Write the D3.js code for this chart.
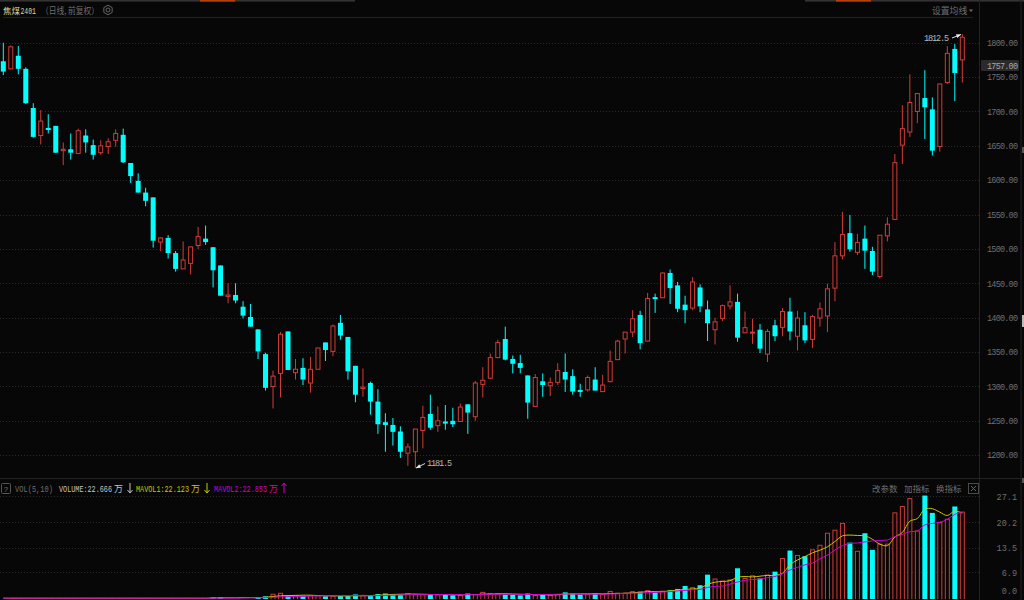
<!DOCTYPE html>
<html><head><meta charset="utf-8">
<style>html,body{margin:0;padding:0;background:#070707;overflow:hidden}svg{display:block}
text{font-family:"Liberation Mono","DejaVu Sans Mono",monospace}
.cjk{font-family:"Noto Sans CJK SC","Liberation Mono",sans-serif}</style>
<script src="https://cdn.jsdelivr.net/npm/d3@7"></script></head><body><svg id="c" width="1024" height="600"></svg>
<script>
const opens=[1773,1762,1781,1762,1705,1665,1676,1679,1643,1645,
1639,1665,1651,1640,1649,1658,1666,1625,1599,1582,
1575,1510,1516,1494,1471,1479,1505,1515,1502.5,1476,
1431,1433,1416,1401,1383,1347,1300,1319,1380,1320,
1327,1305,1325,1364,1351,1392.5,1372,1330,1297,1305,
1278,1248,1244,1234.5,1203,1205,1236,1260,1243,1249,
1250,1249,1274,1256,1303,1312,1342,1369,1340,1334,
1316,1271,1307.5,1301,1306,1321,1315,1295,1295,1310,
1292.5,1307,1339,1369,1379,1404,1366,1430,1429,1465,
1447,1419,1414,1444,1412,1382.5,1399,1417,1423,1378,
1378,1382.5,1347,1389,1386,1409,1373,1389,1368.5,1399.5,
1402.5,1443,1490,1523,1495,1515,1497,1460,1519,1543,
1651,1670,1700,1719.5,1703,1649,1742,1791,1775];
const closes=[1758,1794,1762,1712,1663,1686,1673,1640,1645,1640,
1672,1655,1637,1650,1656,1668,1626,1606,1582,1570,
1512,1516,1494,1471,1484,1503,1518,1510,1469,1432,
1433,1425,1403,1387,1351,1298,1315,1376,1324,1325,
1310,1325,1356,1353,1388,1374,1322,1288,1299,1278,
1245,1244,1234,1205,1212,1238,1255,1240,1250,1246,
1245,1270,1262,1305,1309,1342,1364,1339,1333,1327,
1276.5,1313,1302,1306,1323,1310,1292.5,1292,1313,1294,
1302,1336.5,1366,1379,1398.5,1363,1428,1427,1465,1443,
1413,1411,1452,1416.5,1392,1394,1417.5,1423,1371,1385.5,
1379,1355,1380,1373,1409,1380,1399.5,1367,1401.5,1413,
1442,1490,1521,1499.5,1509.5,1497.5,1467,1520,1536,1625.5,
1675,1713,1726,1706,1643,1740,1784.5,1756,1808];
const highs=[1800,1796,1795,1764,1712,1702,1696,1679,1655,1668,
1675,1674,1659,1658,1661,1674,1675,1625,1610,1589,
1575,1517,1520,1497,1511,1503.5,1532,1534,1502.5,1476,
1450,1450,1424,1420,1383,1349,1323,1379,1380,1340,
1341,1343,1356,1364,1390,1404,1372,1330,1326,1307,
1296,1261,1254,1242,1217,1238,1272,1288,1271,1273,
1269,1275,1274,1308,1328,1348,1368,1387,1345,1346,
1316,1318,1319,1313,1334,1348,1325,1304,1316,1328,
1317,1352,1368,1379,1411,1410,1436,1435,1466,1470,
1452,1432,1459,1448.5,1425,1400,1419,1447,1435,1409,
1398.5,1391,1383.5,1397,1414,1429,1410,1408,1404,1422,
1449.5,1510,1554,1549.5,1522,1534,1503,1520,1546,1638,
1709,1754,1727,1760,1720.5,1740,1795,1798,1812.5];
const lows=[1753,1761,1754,1711,1662,1652,1668,1640,1622,1630,
1638,1640,1630,1637,1638,1649,1625,1596,1582,1562,
1502,1497,1486,1467,1471,1463,1500,1506,1444,1432,
1421,1421,1399,1387,1340,1294,1268,1284,1324,1310,
1302,1291,1325,1337,1344,1368,1310,1277,1285,1259,
1231,1205,1214,1196,1184.5,1181.5,1210,1237,1234,1237,
1241,1249,1231,1250,1284,1311,1341,1338,1319,1319,
1253,1271,1285,1286,1302,1292,1288,1285,1292.5,1294,
1292.5,1306,1339,1348,1372,1354,1366,1407,1429,1420,
1408,1392,1411,1408,1366,1361,1395,1412,1365,1378,
1362,1348.5,1335.5,1366,1373,1367,1352.5,1363,1356,1387,
1379,1424,1485,1496,1491,1471,1462,1457,1511,1543,
1623.5,1663,1683,1660,1636,1641.5,1740,1715,1742];
const volumes=[.04,.04,.04,.04,.04,.04,.04,.04,.04,.04,
.04,.04,.04,.04,.04,.04,.04,.04,.04,.04,
.04,.04,.04,.04,.04,.04,.04,.04,.25,.25,
.1,.1,.2,.2,.3,.55,1.1,1.35,.75,.75,
.7,.75,.75,.55,.6,.6,.6,1.05,.8,.8,
1.15,1.3,1.15,1,1.25,1,1,1,1,1,
.8,.8,1.3,1,1.6,1.25,1.25,1,1,.8,
1.3,.8,.9,.8,1.05,1.6,1.3,1.05,1.05,1.3,
1.05,1.85,1.4,1.4,1.8,1.8,2.05,1.6,1.9,2.15,
2.5,3.3,2.85,3.5,6.3,5.15,4.6,4.9,8,5.3,
6,5.3,6.2,7.1,10.6,12.7,11.4,11.2,12.9,14.1,
17.3,18.1,19.9,14.8,12.5,17.3,12.9,14.4,14.4,22.7,
24.4,26.5,17.9,27.3,22.7,20.2,21,24.4,22.9];
const mavol1=[.05,.05,.05,.05,.05,.05,.05,.05,.05,.05,
.05,.05,.05,.05,.05,.05,.05,.05,.05,.05,
.05,.05,.05,.05,.05,.05,.05,.05,.1,.15,
.15,.15,.2,.2,.2,.3,.5,.7,.75,.8,
.85,.85,.75,.7,.7,.65,.65,.7,.7,.75,
.85,.95,1.05,1.1,1.15,1.15,1.1,1.05,1,1,
.95,.95,1,1,1.15,1.15,1.2,1.25,1.15,1.1,
1.05,1,.95,.95,.95,1.15,1.15,1.2,1.2,1.25,
1.2,1.3,1.3,1.35,1.5,1.6,1.8,1.8,1.8,2,
2.2,2.4,2.5,2.75,3.7,4.3,4.5,4.7,5.6,5.8,
5.7,5.9,6.1,6.1,6.7,8.9,10.2,11.1,12.1,12.8,
13.7,15.1,16.6,16.8,16.7,16.6,15.7,14.4,14,16.3,
17.5,20.5,21.2,23.7,23.8,22.9,22,23.2,22.6];
const mavol2=[.05,.05,.05,.05,.05,.05,.05,.05,.05,.05,
.05,.05,.05,.05,.05,.05,.05,.05,.05,.05,
.05,.05,.05,.05,.05,.05,.05,.05,.05,.05,
.05,.05,.1,.15,.15,.2,.3,.4,.45,.5,
.55,.6,.65,.7,.7,.75,.75,.75,.7,.7,
.75,.8,.85,.9,.95,1,1,1,1.05,1.05,
1.05,1,1,1,1.05,1.05,1.1,1.1,1.1,1.05,
1.05,1.05,1.05,1.05,1.1,1.15,1.15,1.1,1.1,1.1,
1.1,1.15,1.2,1.35,1.4,1.4,1.5,1.6,1.7,1.8,
2,2.1,2.3,2.4,2.9,3.2,3.3,3.8,4.35,4.8,
5,5.15,5.5,5.8,6.55,7.55,8.25,8.9,9.4,10.5,
11.5,12.85,14,14.6,14.7,15,15.25,15.4,15.5,16.4,
17,17.7,17.9,19.5,19.9,20.2,21,22.3,22.9];
const priceTicks=[1800,1750,1700,1650,1600,1550,1500,1450,1400,1350,1300,1250,1200];
const volTicks=[27.1,20.2,13.5,6.9,0];
const titleName="焦煤",titleCode="2401",titleSub="（日线, 前复权）",maSetting="设置均线";
const volLegend=[["VOL(5,10)","",15,38,"#6e6e6e"],["VOLUME:22.666","万",59,53,"#c4c4c4"],["MAVOL1:22.123","万",136,53,"#c8c800"],["MAVOL2:22.853","万",214,53,"#d000d0"]];
const volButtons=[["改参数",872],["加指标",904],["换指标",936]];

const W=1024,axisX=979.5;
const svg=d3.select("#c");
const x=d3.scaleLinear().domain([0,128]).range([3.3,962.3]);
const y=d3.scaleLinear().domain([1200,1800]).range([455.2,42.7]);
const yv=d3.scaleLinear().domain([0,27.1]).range([598.4,496.3]);
const idx=d3.range(opens.length);
const RED="#d03c38",CY="#00ffff",GRID="#2a2a2a",TXT="#6e6e6e",LINE="#222222";
svg.append("rect").attr("width",W).attr("height",600).attr("fill","#070707");

// top strip
svg.append("rect").attr("x",0).attr("y",0).attr("width",355).attr("height",1.6).attr("fill","#333");
svg.append("rect").attr("x",805).attr("y",0).attr("width",219).attr("height",1.6).attr("fill","#333");
svg.append("rect").attr("x",200).attr("y",0).attr("width",35).attr("height",1.6).attr("fill","#b5400f");
svg.append("rect").attr("x",836).attr("y",0).attr("width",35).attr("height",1.6).attr("fill","#b5400f");
// frame lines
[[3,17.5,973,17.5],[0,478.5,1021,478.5]].forEach(l=>svg.append("line").attr("x1",l[0]).attr("y1",l[1]).attr("x2",l[2]).attr("y2",l[3]).attr("stroke",LINE));
[[axisX,0,axisX,600],[1021,0,1021,600]].forEach(l=>svg.append("line").attr("x1",l[0]).attr("y1",l[1]).attr("x2",l[2]).attr("y2",l[3]).attr("stroke",LINE));
[[147,6,"#555"],[315,12,"#bbb"],[478,5,"#555"]].forEach(g=>svg.append("rect").attr("x",1022).attr("y",g[0]).attr("width",2).attr("height",g[1]).attr("fill",g[2]));

// grid
function grid(ticks,scale){svg.append("g").selectAll("line").data(ticks).join("line")
 .attr("x1",0).attr("x2",axisX).attr("y1",d=>Math.round(scale(d))+.5).attr("y2",d=>Math.round(scale(d))+.5)
 .attr("stroke",GRID).attr("stroke-dasharray","1 2");}
grid(priceTicks,y);grid(volTicks.slice(0,4),yv);

// axes
const ax=svg.append("g").attr("transform","translate(987,0)").call(d3.axisRight(y).tickValues(priceTicks).tickFormat(d3.format(".2f")).tickSize(0).tickPadding(0));
ax.select(".domain").remove();
ax.selectAll("text").attr("fill",TXT).attr("font-size",8.5).attr("font-family","Liberation Mono").attr("textLength",31);
const av=svg.append("g").attr("transform","translate(1017,0)").call(d3.axisLeft(yv).tickValues(volTicks).tickFormat(d3.format(".1f")).tickSize(0).tickPadding(0));
av.select(".domain").remove();
av.selectAll("text").attr("fill",TXT).attr("font-size",8.5).attr("font-family","Liberation Mono");
av.selectAll(".tick").filter(d=>d===0).select("text").attr("dy","-5");

// candles
const g=svg.append("g");
g.selectAll(".w").data(idx).join("line").attr("x1",i=>x(i)).attr("x2",i=>x(i))
 .attr("y1",i=>y(highs[i])).attr("y2",i=>y(lows[i])).attr("stroke",i=>closes[i]>=opens[i]?RED:CY);
const up=idx.filter(i=>closes[i]>=opens[i]),dn=idx.filter(i=>closes[i]<opens[i]);
g.selectAll(".u").data(up).join("rect").attr("x",i=>x(i)-2).attr("width",4)
 .attr("y",i=>y(closes[i])).attr("height",i=>Math.max(1,y(opens[i])-y(closes[i])))
 .attr("fill","#070707").attr("stroke",RED);
g.selectAll(".d").data(dn).join("rect").attr("x",i=>x(i)-2.5).attr("width",5)
 .attr("y",i=>y(opens[i])).attr("height",i=>Math.max(1.5,y(closes[i])-y(opens[i])))
 .attr("fill",CY);

// volume bars
const BOTTOM=599;
const vb=svg.append("g");
const barH=i=>Math.max(0,BOTTOM-yv(volumes[i]));
vb.selectAll(".vu").data(up.filter(i=>volumes[i]>.2)).join("rect").attr("x",i=>x(i)-2).attr("width",4)
 .attr("y",i=>yv(volumes[i])).attr("height",i=>barH(i)+3).attr("fill","#070707").attr("stroke",RED);
vb.selectAll(".vd").data(dn.filter(i=>volumes[i]>.2)).join("rect").attr("x",i=>x(i)-2.5).attr("width",5)
 .attr("y",i=>yv(volumes[i])).attr("height",barH).attr("fill",CY);
const curve=d3.curveCatmullRom;
svg.append("path").attr("d",d3.line().x(i=>x(i)).y(i=>yv(mavol1[i])).curve(curve)(idx)).attr("fill","none").attr("stroke","#c8c800").attr("stroke-width",1);
svg.append("path").attr("d",d3.line().x(i=>x(i)).y(i=>yv(mavol2[i])).curve(curve)(idx)).attr("fill","none").attr("stroke","#d000d0").attr("stroke-width",1);
svg.append("rect").attr("x",0).attr("y",599.2).attr("width",979).attr("height",1).attr("fill","#070707");

// header
svg.append("text").attr("class","cjk").attr("x",3).attr("y",14).attr("fill","#d8d8a0").attr("font-size",8.5).text(titleName);
svg.append("text").attr("x",20.5).attr("y",13.5).attr("fill","#d8d8a0").attr("font-size",9.5).attr("textLength",15.5).attr("lengthAdjust","spacingAndGlyphs").text(titleCode);
svg.append("text").attr("class","cjk").attr("x",41).attr("y",13.5).attr("fill",TXT).attr("font-size",9).attr("textLength",58).attr("lengthAdjust","spacingAndGlyphs").text(titleSub);
svg.append("circle").attr("cx",108).attr("cy",10).attr("r",2).attr("fill","none").attr("stroke","#666");
svg.append("path").attr("d",d3.line()(d3.range(7).map(k=>[108+4.8*Math.cos(k*Math.PI/3+Math.PI/6),10+4.8*Math.sin(k*Math.PI/3+Math.PI/6)]))).attr("fill","none").attr("stroke","#666");
svg.append("text").attr("class","cjk").attr("x",932).attr("y",14).attr("fill",TXT).attr("font-size",8.8).text(maSetting);
svg.append("path").attr("d","M969 9.5h4l-2 2.5z").attr("fill",TXT);

// last price tag
svg.append("rect").attr("x",981).attr("y",60).attr("width",38).attr("height",11).attr("rx",1).attr("fill","#2a2a2a");
svg.append("text").attr("x",987).attr("y",68.5).attr("fill","#a8a8a8").attr("font-size",8.5).attr("textLength",31).text("1757.00");

// extremes
function note(t,tx,ty,p1,p2){svg.append("text").attr("x",tx).attr("y",ty).attr("fill","#b8b8b8").attr("font-size",8.5).attr("textLength",25).text(t);
 svg.append("line").attr("x1",p1[0]).attr("y1",p1[1]).attr("x2",p2[0]).attr("y2",p2[1]).attr("stroke","#ddd");
 const a=Math.atan2(p2[1]-p1[1],p2[0]-p1[0]);
 svg.append("path").attr("d",d3.line()([p2,[p2[0]-5*Math.cos(a-.4),p2[1]-5*Math.sin(a-.4)],[p2[0]-5*Math.cos(a+.4),p2[1]-5*Math.sin(a+.4)]])+"Z").attr("fill","#eee");}
note("1812.5",924,41,[952,38],[961,34.5]);
note("1181.5",427,466,[425,463.5],[416,468]);

// volume legend
svg.append("rect").attr("x",1.5).attr("y",483.5).attr("width",9).attr("height",10).attr("rx",1).attr("fill","none").attr("stroke","#555");
svg.append("text").attr("x",3.5).attr("y",491.5).attr("fill",TXT).attr("font-size",8).text("?");
volLegend.forEach(d=>{
 svg.append("text").attr("x",d[2]).attr("y",491.5).attr("fill",d[4]).attr("font-size",8.5).attr("textLength",d[3]).attr("lengthAdjust","spacingAndGlyphs").text(d[0]);
 if(d[1]) svg.append("text").attr("class","cjk").attr("x",d[2]+d[3]+2).attr("y",492).attr("fill",d[4]).attr("font-size",9).text(d[1]);});
[[130,"#c4c4c4",1],[207,"#c8c800",1],[284,"#d000d0",-1]].forEach(a=>{const m=488,s=a[2];
 svg.append("path").attr("d",`M${a[0]} ${m-5*s}V${m+5*s}M${a[0]-2.5} ${m+2*s}L${a[0]} ${m+5*s}L${a[0]+2.5} ${m+2*s}`).attr("fill","none").attr("stroke",a[1]);});
volButtons.forEach(d=>svg.append("text").attr("class","cjk").attr("x",d[1]).attr("y",492).attr("fill",TXT).attr("font-size",8.5).text(d[0]));
svg.append("rect").attr("x",968.5).attr("y",483.5).attr("width",10).attr("height",10).attr("fill","none").attr("stroke","#4a4a4a");
svg.append("path").attr("d","M971 486l5 5M976 486l-5 5").attr("stroke","#666");
</script></body></html>
